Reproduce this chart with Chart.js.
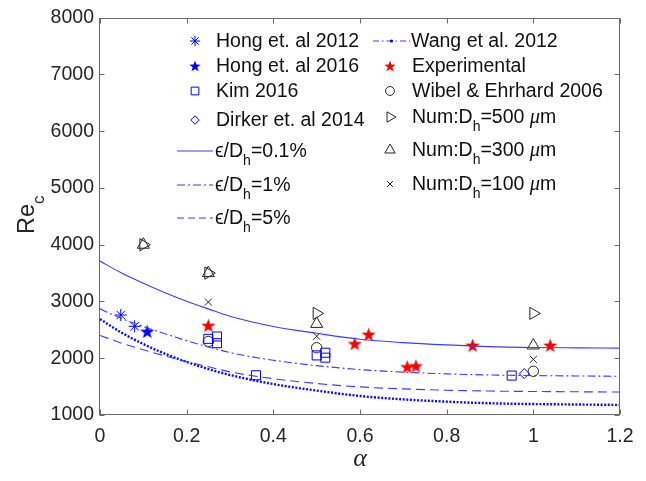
<!DOCTYPE html>
<html><head><meta charset="utf-8">
<script src="https://cdn.jsdelivr.net/npm/chart.js@4.4.0/dist/chart.umd.min.js"></script>
<style>html,body{margin:0;padding:0;background:#fff;}#wrap{width:646px;height:481px;position:relative;}</style>
</head><body><div id="wrap"><canvas id="c" width="646" height="481"></canvas></div>
<script>
// ---------------- data ----------------
const alphaGrid   = [0, 0.05, 0.1, 0.15, 0.2, 0.25, 0.3, 0.4, 0.5, 0.6, 0.7, 0.8, 0.9, 1.0, 1.1, 1.2];
const rough01Re   = [3713, 3500, 3320, 3155, 3005, 2870, 2740, 2560, 2440, 2335, 2275, 2235, 2205, 2190, 2183, 2178];
const rough1Re    = [2870, 2700, 2560, 2430, 2310, 2200, 2100, 1965, 1870, 1800, 1755, 1725, 1705, 1695, 1688, 1683];
const rough5Re    = [2400, 2265, 2150, 2040, 1940, 1850, 1760, 1640, 1555, 1495, 1460, 1437, 1422, 1414, 1409, 1405];
const wang2012Re  = [2690, 2450, 2250, 2080, 1935, 1810, 1705, 1545, 1430, 1335, 1275, 1235, 1207, 1193, 1185, 1178];

const hong2012Alpha = [0.048, 0.08];
const hong2012Re    = [2762, 2563];
const hong2016Alpha = [0.109];
const hong2016Re    = [2470];
const kimAlpha      = [0.25, 0.27, 0.27, 0.36, 0.5, 0.52, 0.52, 0.95];
const kimRe         = [2342, 2383, 2265, 1700, 2050, 2097, 2010, 1695];
const dirkerAlpha   = [0.979];
const dirkerRe      = [1730];
const expAlpha      = [0.25, 0.588, 0.62, 0.709, 0.729, 0.86, 1.039];
const expRe         = [2575, 2255, 2418, 1846, 1863, 2225, 2225];
const wibelAlpha    = [0.25, 0.5, 1.0];
const wibelRe       = [2295, 2185, 1770];
const num500Alpha   = [0.1, 0.25, 0.5, 1.0];
const num500Re      = [4000, 3500, 2790, 2790];
const num300Alpha   = [0.1, 0.25, 0.5, 1.0];
const num300Re      = [4000, 3500, 2605, 2225];
const num100Alpha   = [0.25, 0.5, 1.0];
const num100Re      = [2990, 2388, 1980];

const xTickLabels = ['0', '0.2', '0.4', '0.6', '0.8', '1', '1.2'];
const yTickLabels = ['1000', '2000', '3000', '4000', '5000', '6000', '7000', '8000'];
const xTitle = 'α';
const yTitle = 'Re_c';

// ---------------- helpers ----------------
const pts = (xs, ys) => xs.map((x, i) => ({x: x, y: ys[i]}));
function starCanvas(color, size) {
  const c = document.createElement('canvas'); c.width = c.height = size;
  const g = c.getContext('2d'); const cx = size / 2, cy = size / 2 + 0.5, R = size / 2, r = R * 0.4;
  g.beginPath();
  for (let i = 0; i < 10; i++) { const a = -Math.PI / 2 + i * Math.PI / 5; const rr = i % 2 ? r : R; g.lineTo(cx + rr * Math.cos(a), cy + rr * Math.sin(a)); }
  g.closePath(); g.fillStyle = color; g.fill(); return c;
}
const redStar = starCanvas('#ff0000', 15);
const blueStar = starCanvas('#0000ff', 15);
const BLUE = '#0000ff', LBLUE = '#3d3dff', BLK = '#262626';

function mk(label, xs, ys, o) {
  return Object.assign({label: label, data: pts(xs, ys), showLine: false, borderWidth: 1, pointBorderWidth: 1, backgroundColor: 'rgba(0,0,0,0)'}, o);
}
function ln(label, ys, o) {
  return Object.assign({label: label, data: pts(alphaGrid, ys), showLine: true, pointRadius: 0, pointHoverRadius: 0, fill: false, cubicInterpolationMode: 'monotone', backgroundColor: 'rgba(0,0,0,0)'}, o);
}

const datasets = [
  ln('ϵ/D_h=0.1%', rough01Re, {borderColor: LBLUE, borderWidth: 1.1, legend: {col: 0, row: 4, line: true, color: LBLUE}}),
  ln('ϵ/D_h=1%', rough1Re, {borderColor: LBLUE, borderWidth: 1.1, borderDash: [8, 3, 2, 3], legend: {col: 0, row: 5, line: true, color: LBLUE, dash: [8, 3, 2, 3]}}),
  ln('ϵ/D_h=5%', rough5Re, {borderColor: LBLUE, borderWidth: 1.1, borderDash: [9, 5], legend: {col: 0, row: 6, line: true, color: LBLUE, dash: [7, 4]}}),
  ln('Wang et al. 2012', wang2012Re, {borderColor: '#0a0aff', borderWidth: 2.4, borderDash: [2, 1.6], legend: {col: 1, row: 0, line: true, color: LBLUE, dash: [6, 3, 1.5, 3], dot: true}}),
  mk('Hong et. al 2012', hong2012Alpha, hong2012Re, {pointStyle: 'star', pointRadius: 6, borderColor: BLUE, legend: {col: 0, row: 0, color: BLUE}}),
  mk('Hong et. al 2016', hong2016Alpha, hong2016Re, {pointStyle: blueStar, pointRadius: 7, borderColor: BLUE, legend: {col: 0, row: 1, color: BLUE, img: starCanvas('#0000ff', 12)}}),
  mk('Kim 2016', kimAlpha, kimRe, {pointStyle: 'rect', pointRadius: 6.4, borderColor: BLUE, legend: {col: 0, row: 2, color: BLUE}}),
  mk('Dirker et. al 2014', dirkerAlpha, dirkerRe, {pointStyle: 'rectRot', pointRadius: 5, borderColor: BLUE, legend: {col: 0, row: 3, color: BLUE}}),
  mk('Experimental', expAlpha, expRe, {pointStyle: redStar, pointRadius: 7, borderColor: '#ff0000', legend: {col: 1, row: 1, color: '#ff0000', img: starCanvas('#ff0000', 12)}}),
  mk('Wibel & Ehrhard 2006', wibelAlpha, wibelRe, {pointStyle: 'circle', pointRadius: 5.2, borderColor: BLK, legend: {col: 1, row: 2, color: BLK}}),
  mk('Num:D_h=500 μm', num500Alpha, num500Re, {pointStyle: 'triangle', pointRotation: 90, pointRadius: 7, borderColor: BLK, legend: {col: 1, row: 3, color: BLK}}),
  mk('Num:D_h=300 μm', num300Alpha, num300Re, {pointStyle: 'triangle', pointRadius: 7, borderColor: BLK, legend: {col: 1, row: 4, color: BLK}}),
  mk('Num:D_h=100 μm', num100Alpha, num100Re, {pointStyle: 'crossRot', pointRadius: 5, borderColor: BLK, legend: {col: 1, row: 5, color: BLK}})
];

// ---------------- rich text ----------------
function richTokens(str) {
  const t = [];
  for (let i = 0; i < str.length; i++) {
    const ch = str[i];
    if (ch === '_') { t.push({t: str[i + 1], sub: true}); i++; }
    else if (ch === 'μ') { t.push({t: ch, it: true}); }
    else { const l = t[t.length - 1]; if (l && !l.sub && !l.it) l.t += ch; else t.push({t: ch}); }
  }
  return t;
}
function drawRich(ctx, str, x, y, size) {
  let cx = x;
  richTokens(str).forEach(tk => {
    const fs = tk.sub ? size * 0.72 : size;
    ctx.font = tk.it ? ('italic ' + (size * 1.05) + 'px "Liberation Serif"') : (fs + 'px "Liberation Sans"');
    ctx.fillText(tk.t, cx, tk.sub ? y + size * 0.41 : y);
    cx += ctx.measureText(tk.t).width;
  });
  return cx;
}

// ---------------- plugins ----------------
const framePlugin = {
  id: 'frame',
  afterDatasetsDraw(chart) {
    const {ctx, chartArea: a, scales: {x, y}} = chart;
    ctx.save();
    ctx.strokeStyle = '#6a6a6a'; ctx.lineWidth = 1; ctx.setLineDash([]);
    const L = Math.round(a.left) - 0.5, R = Math.round(a.right) - 0.5, T = Math.round(a.top) + 0.5, B = Math.round(a.bottom) - 0.5;
    ctx.strokeRect(L, T, R - L, B - T);
    const tl = 5;
    ctx.beginPath();
    x.ticks.forEach(t => { const p = Math.round(x.getPixelForValue(t.value)) + 0.5; ctx.moveTo(p, B); ctx.lineTo(p, B - tl); ctx.moveTo(p, T); ctx.lineTo(p, T + tl); });
    y.ticks.forEach(t => { const p = Math.round(y.getPixelForValue(t.value)) + 0.5; ctx.moveTo(L, p); ctx.lineTo(L + tl, p); ctx.moveTo(R, p); ctx.lineTo(R - tl, p); });
    ctx.stroke();
    ctx.restore();
  }
};

const legendPlugin = {
  id: 'mlegend',
  afterDraw(chart) {
    const ctx = chart.ctx;
    const cols = [
      {mx: 195, l0: 177, l1: 213, tx: 216, base: [47, 72, 97, 126, 157, 191, 224]},
      {mx: 390, l0: 373, l1: 410, tx: 412, base: [47, 72, 97, 123, 156, 190]}
    ];
    ctx.save();
    chart.data.datasets.forEach(ds => {
      const lg = ds.legend; if (!lg) return;
      const c = cols[lg.col]; const b = c.base[lg.row]; const my = b - 6;
      ctx.setLineDash([]);
      if (lg.line) {
        ctx.strokeStyle = lg.color; ctx.lineWidth = 1.2;
        ctx.setLineDash(lg.dash || []);
        ctx.beginPath(); ctx.moveTo(c.l0, my); ctx.lineTo(c.l1, my); ctx.stroke();
        ctx.setLineDash([]);
        if (lg.dot) { ctx.fillStyle = '#0000ff'; ctx.beginPath(); ctx.arc((c.l0 + c.l1) / 2, my, 1.6, 0, Math.PI * 2); ctx.fill(); }
      } else if (lg.img) {
        ctx.drawImage(lg.img, c.mx - lg.img.width / 2, my - lg.img.height / 2);
      } else {
        ctx.strokeStyle = lg.color; ctx.fillStyle = 'rgba(0,0,0,0)'; ctx.lineWidth = 1;
        Chart.helpers.drawPoint(ctx, {pointStyle: ds.pointStyle, radius: ds.pointRadius * 0.85, rotation: ds.pointRotation || 0, borderWidth: 1}, c.mx, my);
      }
      ctx.fillStyle = '#111111'; ctx.textBaseline = 'alphabetic'; ctx.textAlign = 'left';
      drawRich(ctx, ds.label, lg.line ? c.tx - 1 : c.tx, b, 19.5);
    });
    // y axis title with subscript
    ctx.translate(34, 234); ctx.rotate(-Math.PI / 2);
    ctx.fillStyle = '#262626';
    drawRich(ctx, yTitle, 0, 0, 23.5);
    ctx.restore();
  }
};

new Chart(document.getElementById('c'), {
  type: 'scatter',
  data: {datasets: datasets},
  options: {
    responsive: false, animation: false, devicePixelRatio: 1,
    layout: {padding: {top: 15, right: 26, left: 0, bottom: 0}},
    plugins: {legend: {display: false}, tooltip: {enabled: false}},
    elements: {line: {tension: 0}},
    scales: {
      x: {
        type: 'linear', min: 0, max: 1.2,
        ticks: {stepSize: 0.2, padding: 10, color: '#262626', font: {family: 'Liberation Sans', size: 19.5},
          callback: (v) => xTickLabels[Math.round(v / 0.2)]},
        grid: {display: false, drawTicks: false}, border: {display: false},
        title: {display: true, text: xTitle, color: '#262626', font: {family: 'Liberation Serif', style: 'italic', size: 26}, padding: {top: 0, bottom: 6}},
        afterFit: s => { s.height = 66; }
      },
      y: {
        type: 'linear', min: 1000, max: 8000,
        ticks: {stepSize: 1000, padding: 6, color: '#262626', font: {family: 'Liberation Sans', size: 19.5},
          callback: (v) => yTickLabels[Math.round((v - 1000) / 1000)]},
        grid: {display: false, drawTicks: false}, border: {display: false},
        afterFit: s => { s.width = 100; }
      }
    }
  },
  plugins: [framePlugin, legendPlugin]
});
</script>
</body></html>
